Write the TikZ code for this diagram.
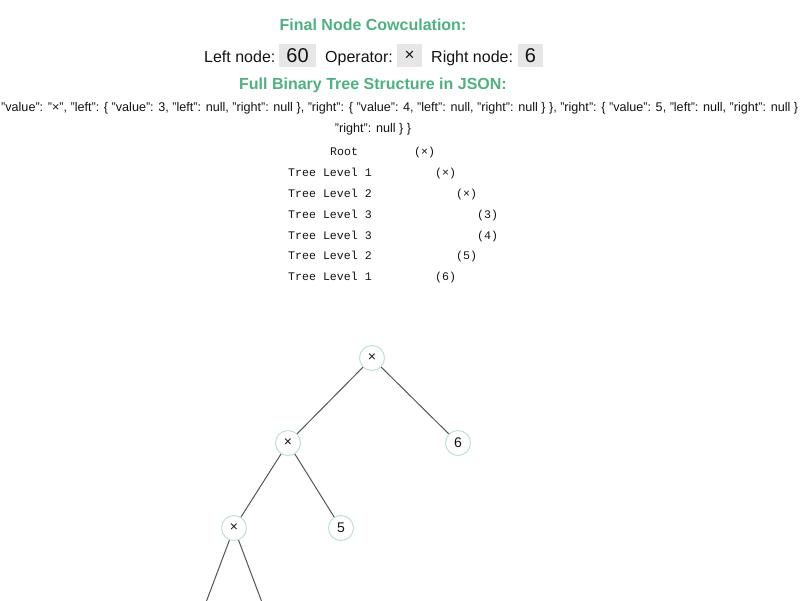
\documentclass[tikz,border=0pt]{standalone}
\usepackage{fontspec}
\setmainfont{Liberation Sans}
\setmonofont{Liberation Mono}
\definecolor{hgreen}{RGB}{76,178,128}
\definecolor{boxgray}{RGB}{230,230,230}
\definecolor{ringcol}{RGB}{192,226,210}
\definecolor{edgecol}{RGB}{85,85,85}
\definecolor{txt}{RGB}{20,20,20}
\begin{document}
\begin{tikzpicture}[x=1pt,y=-1pt,
  heading/.style={font=\fontsize{16}{19}\selectfont\bfseries, text=hgreen, inner sep=0, anchor=base},
  lbl/.style={font=\fontsize{16}{19}\selectfont, text=txt, inner sep=0, anchor=base west},
  valbox/.style={fill=boxgray, font=\fontsize{20}{22}\selectfont, text=txt, minimum height=23, inner xsep=0, inner ysep=0},
  json/.style={font=\fontsize{12.6}{15}\selectfont, text=txt, inner sep=0},
  mono/.style={font=\ttfamily\fontsize{11.6}{13}\selectfont, text=txt, inner sep=0, anchor=base west},
  tn/.style={circle, draw=ringcol, line width=1, fill=white, minimum size=25, inner sep=0, font=\fontsize{14}{16}\selectfont, text=txt},
  edge/.style={draw=edgecol, line width=1}]
\useasboundingbox (0,0) rectangle (800,600);
\clip (0,0) rectangle (800,600);
\fill[white] (0,0) rectangle (800,600);
% header
\node[heading] (title) at (373,30) {Final Node Cowculation:};
\node[lbl] (ln) at (204,62) {Left node:};
\node[valbox, minimum width=37] (lv) at (297.5,55.5) {60};
\node[lbl] (op) at (325,62) {Operator:};
\node[valbox, minimum width=25, font=\fontsize{17}{19}\selectfont] (ov) at (409.5,55.5) {×};
\node[lbl] (rn) at (431,62) {Right node:};
\node[valbox, minimum width=25] (rv) at (530.5,55.5) {6};
\node[heading] (jsontitle) at (373,89) {Full Binary Tree Structure in JSON:};
\node[json, anchor=base west] (j1) at (1,111) {"value": "×", "left": \{ "value": 3, "left": null, "right": null \}, "right": \{ "value": 4, "left": null, "right": null \} \}, "right": \{ "value": 5, "left": null, "right": null \}};
\node[json, anchor=base] (j2) at (373,132) {"right": null \} \}};
% text tree
\node[mono] (r0) at (330,155) {Root};
\node[mono] (v0) at (414,155) {(×)};
\node[mono] (r1) at (288,176) {Tree Level 1};
\node[mono] (v1) at (435,176) {(×)};
\node[mono] (r2) at (288,197) {Tree Level 2};
\node[mono] (v2) at (456,197) {(×)};
\node[mono] (r3) at (288,218) {Tree Level 3};
\node[mono] (v3) at (477,218) {(3)};
\node[mono] (r4) at (288,239) {Tree Level 3};
\node[mono] (v4) at (477,239) {(4)};
\node[mono] (r5) at (288,259) {Tree Level 2};
\node[mono] (v5) at (456,259) {(5)};
\node[mono] (r6) at (288,280) {Tree Level 1};
\node[mono] (v6) at (435,280) {(6)};
% drawn tree
\coordinate (c3) at (202,613);
\coordinate (c4) at (266,613);
\node[tn] (root) at (372,358) {×};
\node[tn] (a) at (288,443) {×};
\node[tn] (b) at (458,443) {6};
\node[tn] (aa) at (234,528) {×};
\node[tn] (ab) at (341,528) {5};
\draw[edge] (root) -- (a);
\draw[edge] (root) -- (b);
\draw[edge] (a) -- (aa);
\draw[edge] (a) -- (ab);
\draw[edge, shorten >=12.5pt] (aa) -- (c3);
\draw[edge, shorten >=12.5pt] (aa) -- (c4);
\end{tikzpicture}
\end{document}
